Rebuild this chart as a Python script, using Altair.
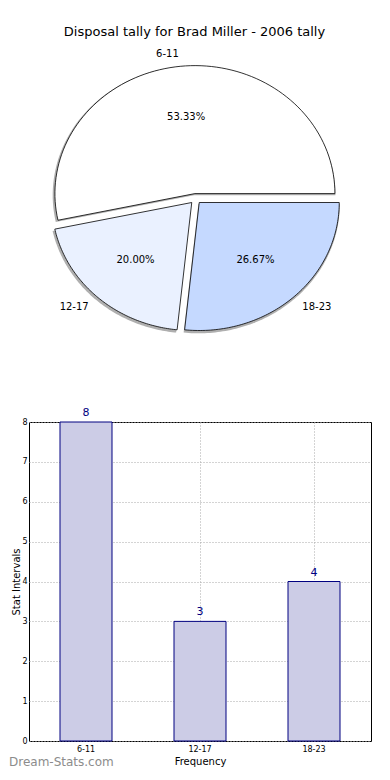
import altair as alt
import pandas as pd

FONT = "DejaVu Sans"

# ---- data ----
categories = ["6-11", "12-17", "18-23"]
tally = [8, 3, 4]
slice_colors = ["#ffffff", "#eaf1ff", "#c5d9ff"]
title_text = "Disposal tally for Brad Miller - 2006 tally"
y_ticks = [0, 1, 2, 3, 4, 5, 6, 7, 8]
watermark = ["Dream-Stats.com"]

df = pd.DataFrame({"category": categories, "value": tally, "idx": list(range(len(tally)))})

# ---- pie geometry (normalised units; ellipse via independent x/y scales) ----
N = 90
EXPL = 0.04
W_PIE, H_PIE = 350, 300
LEFT_HALF = 166.5
x_dom = [-LEFT_HALF / 140, (W_PIE - LEFT_HALF) / 140]
y_dom = [(198.7 - 345) / 128, (198.7 - 45) / 128]

xsc = alt.Scale(domain=x_dom, nice=False, zero=False)
ysc = alt.Scale(domain=y_dom, nice=False, zero=False)

base = (
    alt.Chart(df)
    .transform_joinaggregate(total="sum(value)")
    .transform_window(cum="sum(value)", sort=[alt.SortField("idx")], frame=[None, 0])
    .transform_calculate(a0="2*PI*(datum.cum-datum.value)/datum.total")
    .transform_calculate(a1="2*PI*datum.cum/datum.total")
    .transform_calculate(mid="(datum.a0+datum.a1)/2")
    .transform_calculate(ex=f"{EXPL}*cos(datum.mid)")
    .transform_calculate(ey=f"{EXPL}*sin(datum.mid)")
)

pts = (
    base.transform_calculate(s=f"sequence(0, {N + 3})")
    .transform_flatten(["s"])
    .transform_calculate(t=f"clamp((datum.s-1)/{N}, 0, 1)")
    .transform_calculate(rr=f"(datum.s==0 || datum.s=={N + 2}) ? 0 : 1")
    .transform_calculate(ang="datum.a0 + (datum.a1-datum.a0)*datum.t")
    .transform_calculate(px="datum.ex + datum.rr*cos(datum.ang)")
    .transform_calculate(py="datum.ey + datum.rr*sin(datum.ang)")
    .transform_calculate(sx="datum.ex + datum.rr*1.01*cos(datum.ang) - 0.006")
    .transform_calculate(sy="datum.ey + datum.rr*1.01*sin(datum.ang) - 0.012")
)

shadow = pts.mark_line(filled=True, color="#7a7a7a", fillOpacity=0.6, strokeOpacity=0).encode(
    x=alt.X("sx:Q", scale=xsc, axis=None),
    y=alt.Y("sy:Q", scale=ysc, axis=None),
    order="s:Q",
    detail="category:N",
)

wedges = pts.mark_line(filled=True, stroke="black", strokeWidth=0.8, strokeJoin="miter").encode(
    x=alt.X("px:Q", scale=xsc, axis=None),
    y=alt.Y("py:Q", scale=ysc, axis=None),
    order="s:Q",
    detail="category:N",
    color=alt.Color("category:N", scale=alt.Scale(domain=categories, range=slice_colors), legend=None),
)

lab = base.transform_calculate(lx="datum.ex + 1.1*cos(datum.mid)").transform_calculate(
    ly="datum.ey + 1.1*sin(datum.mid)"
)
lab_left = lab.transform_filter("datum.lx < 0").mark_text(
    align="right", baseline="middle", fontSize=10, font=FONT, color="black"
).encode(x=alt.X("lx:Q", scale=xsc, axis=None), y=alt.Y("ly:Q", scale=ysc, axis=None), text="category:N")
lab_right = lab.transform_filter("datum.lx >= 0").mark_text(
    align="left", baseline="middle", fontSize=10, font=FONT, color="black"
).encode(x=alt.X("lx:Q", scale=xsc, axis=None), y=alt.Y("ly:Q", scale=ysc, axis=None), text="category:N")

pct = (
    base.transform_calculate(qx="datum.ex + 0.6*cos(datum.mid)")
    .transform_calculate(qy="datum.ey + 0.6*sin(datum.mid)")
    .transform_calculate(pct="format(100*datum.value/datum.total, '.2f') + '%'")
    .mark_text(align="center", baseline="middle", fontSize=10, font=FONT, color="black")
    .encode(x=alt.X("qx:Q", scale=xsc, axis=None), y=alt.Y("qy:Q", scale=ysc, axis=None), text="pct:N")
)

pie = alt.layer(shadow, wedges, lab_left, lab_right, pct).properties(
    width=W_PIE,
    height=H_PIE,
    title=alt.TitleParams(title_text, fontSize=13, font=FONT, fontWeight="normal", color="black",
                          anchor="middle", dx=-9.5, offset=6),
    view=alt.ViewBackground(stroke="transparent"),
)

# ---- bar chart ----
bar_df = pd.DataFrame({"category": categories, "value": tally})
grid_kw = dict(grid=True, gridDash=[1, 2], gridColor="#a8a8a8", gridWidth=1)
xb = alt.X(
    "category:N",
    sort=categories,
    scale=alt.Scale(paddingInner=0, paddingOuter=0),
    axis=alt.Axis(
        title="Frequency", labelAngle=0, labelFontSize=8, labelFont=FONT, labelColor="black",
        titleFontSize=10, titleFont=FONT, titleFontWeight="normal", titleColor="black",
        tickSize=0, labelPadding=4, titlePadding=3, domain=False, bandPosition=0.5, **grid_kw,
    ),
)
yb = alt.Y(
    "value:Q",
    scale=alt.Scale(domain=[0, 8], nice=False, zero=True),
    axis=alt.Axis(
        values=y_ticks, labelOverlap=False, title="Stat Intervals", labelFontSize=8, labelFont=FONT,
        labelColor="black", titleFontSize=10, titleFont=FONT, titleFontWeight="normal", titleColor="black",
        tickSize=0, labelPadding=2, titlePadding=0, domain=False, **grid_kw,
    ),
)
bars = alt.Chart(bar_df).mark_bar(size=52, fill="#ccccE6", stroke="#000080", strokeWidth=1).encode(x=xb, y=yb)
vals = alt.Chart(bar_df).mark_text(baseline="bottom", dy=-4, fontSize=11, font=FONT, color="#000080").encode(
    x=xb, y=yb, text="value:Q"
)
wm = alt.Chart(pd.DataFrame({"t": watermark})).mark_text(
    align="left", baseline="alphabetic", fontSize=12, font=FONT, color="#8c8c8c"
).encode(x=alt.value(-20), y=alt.value(344), text="t:N")

bar = alt.layer(bars, vals, wm).properties(
    width=342, height=319, view=alt.ViewBackground(stroke="black", strokeWidth=1)
)

chart = alt.vconcat(pie, bar, spacing=60).properties(
    padding={"left": 0, "top": 17, "right": 0, "bottom": 0}
).configure(font=FONT)

chart.save("out.html", embed_options={"renderer": "svg", "actions": False})
